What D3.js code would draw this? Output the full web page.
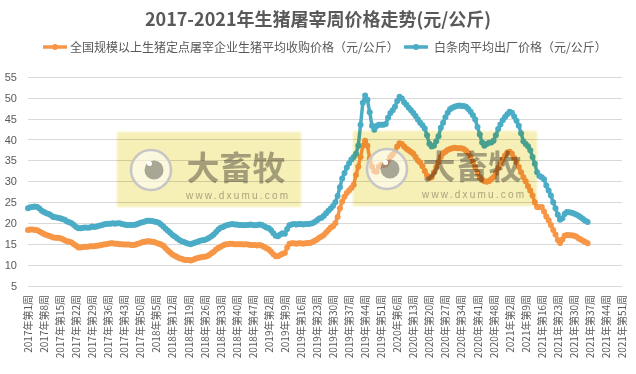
<!DOCTYPE html>
<html>
<head>
<meta charset="utf-8">
<script src="https://cdn.jsdelivr.net/npm/d3@7"></script>
<style>
body { margin: 0; background: #fff; }
svg { display: block; font-family: "Noto Sans CJK SC", "Noto Sans", sans-serif; }
</style>
</head>
<body>
<div id="chart"></div>
<script>
var width = 636,
	height = 374;

// 年份与每年周数，横轴每7周一个标签
var years = [2017, 2018, 2019, 2020, 2021];
var weeksInYear = [52, 52, 52, 53, 51];
var labelStep = 7;
var yTicks = [5, 10, 15, 20, 25, 30, 35, 40, 45, 50, 55];

var seriesNames = ["全国规模以上生猪定点屠宰企业生猪平均收购价格（元/公斤）", "白条肉平均出厂价格（元/公斤）"];
var seriesColors = ["#F79646", "#4BACC6"];

// 生猪平均收购价格
var purchase2017 = [18.4,18.5,18.5,18.4,18.3,18.0,17.7,17.4,17.2,17.0,16.8,16.6,16.5,16.5,16.4,16.2,15.9,15.7,15.6,15.4,15.0,14.6,14.2,14.2,14.3,14.4,14.4,14.5,14.5,14.5,14.6,14.7,14.8,14.9,15.0,15.1,15.2,15.2,15.1,15.1,15.0,15.0,14.9,14.9,14.9,14.8,14.8,14.9,15.1,15.3,15.5,15.6];
var purchase2018 = [15.7,15.7,15.6,15.5,15.3,15.1,14.9,14.6,14.0,13.5,13.0,12.5,12.2,11.9,11.6,11.5,11.3,11.2,11.2,11.1,11.3,11.5,11.7,11.8,11.9,12.0,12.1,12.4,12.8,13.2,13.7,14.1,14.4,14.7,14.9,15.0,15.1,15.1,15.0,15.0,15.0,15.0,14.9,15.0,14.9,14.8,14.8,14.8,14.7,14.8,14.6,14.3];
var purchase2019 = [14.0,13.7,13.2,12.6,12.1,12.1,12.4,12.7,12.9,14.2,15.1,15.2,15.2,15.1,15.2,15.2,15.1,15.2,15.3,15.3,15.5,15.8,16.1,16.5,16.8,17.2,17.8,18.4,19.0,19.3,20.0,21.5,23.6,25.2,26.3,27.2,27.8,28.4,29.2,31.5,33.5,35.8,38.5,39.7,38.5,35.5,33.5,32.5,32.3,33.5,33.9,33.9];
var purchase2020 = [34.0,34.8,35.8,36.4,37.2,38.3,39.1,38.9,38.3,37.8,37.4,37.0,36.6,35.8,35.0,34.5,33.6,32.5,31.4,30.8,31.0,32.2,33.4,34.6,35.8,36.7,37.1,37.5,37.7,37.9,38.0,37.9,37.9,37.9,37.7,37.3,36.8,35.9,34.6,33.4,32.1,31.0,30.4,30.0,29.9,30.1,30.5,31.0,32.0,33.2,34.2,35.2,36.2];
var purchase2021 = [36.9,37.1,36.6,35.6,34.6,33.4,32.2,31.0,30.0,28.8,27.8,26.6,25.0,23.9,23.8,23.9,22.8,21.6,20.7,19.6,18.4,17.3,16.0,15.3,16.1,17.0,17.2,17.1,17.1,17.0,16.8,16.4,16.1,15.8,15.5,15.2];

// 白条肉平均出厂价格
var pork2017 = [23.6,23.8,23.9,24.0,23.9,23.5,23.0,22.7,22.4,22.2,21.9,21.5,21.4,21.3,21.2,21.0,20.8,20.4,20.2,20.0,19.6,19.1,18.8,18.8,18.9,19.0,18.9,19.0,19.2,19.1,19.2,19.4,19.5,19.7,19.8,19.9,19.9,20.0,19.9,20.0,20.0,19.8,19.7,19.6,19.6,19.6,19.6,19.7,19.9,20.1,20.2,20.4];
var pork2018 = [20.6,20.6,20.5,20.4,20.3,20.1,19.7,19.2,18.7,18.2,17.7,17.2,16.8,16.4,16.0,15.7,15.5,15.3,15.1,15.0,15.2,15.4,15.6,15.8,15.9,16.0,16.2,16.5,16.9,17.3,17.9,18.5,18.9,19.1,19.4,19.6,19.7,19.8,19.7,19.7,19.6,19.6,19.5,19.6,19.6,19.7,19.6,19.5,19.6,19.7,19.6,19.3];
var pork2019 = [19.0,18.8,18.3,17.6,17.0,16.9,17.3,17.6,17.5,18.6,19.5,19.7,19.8,19.7,19.8,19.8,19.7,19.8,19.8,19.9,20.0,20.3,20.7,21.1,21.3,21.8,22.4,23.0,23.5,24.1,25.0,26.5,28.6,30.7,32.0,33.3,34.3,35.2,35.8,36.6,38.5,43.5,48.8,50.5,49.5,46.5,43.3,42.3,43.2,43.5,43.5,43.5];
var pork2020 = [43.7,45.2,46.3,47.0,47.8,49.2,50.2,49.8,48.9,48.3,47.6,47.0,46.3,45.6,44.8,44.0,43.4,42.6,41.0,39.0,38.3,38.5,39.6,40.8,42.8,44.0,45.3,46.4,47.2,47.6,47.8,48.0,48.1,48.0,48.0,47.8,47.3,46.6,45.8,44.8,43.0,41.2,39.3,38.5,38.9,39.2,39.3,39.7,41.0,42.5,43.6,44.6,45.4];
var pork2021 = [46.0,46.6,46.4,45.5,44.5,43.3,41.5,39.6,38.9,38.4,37.4,35.8,34.2,32.2,31.3,31.0,30.5,29.0,27.8,26.6,25.0,23.6,22.0,20.8,21.2,22.2,22.7,22.6,22.5,22.3,22.1,21.8,21.4,21.0,20.6,20.3];

var purchase = [].concat(purchase2017, purchase2018, purchase2019, purchase2020, purchase2021);
var pork = [].concat(pork2017, pork2018, pork2019, pork2020, pork2021);
var series = [purchase, pork];

// 横轴类别：2017年第1周 ... 2021年第51周
var categories = [];
years.forEach(function(y, k){
	for (var w = 1; w <= weeksInYear[k]; w++) categories.push(y + "年第" + w + "周");
});

var svg = d3.select("#chart").append("svg")
	.attr("width", width)
	.attr("height", height);

var x = d3.scalePoint()
	.domain(categories)
	.range([28, 622]);

var y = d3.scaleLinear()
	.domain([5, 55])
	.range([286, 76.7]);

// 标题
svg.append("text")
	.attr("x", 318)
	.attr("y", 26)
	.attr("text-anchor", "middle")
	.style("font-size", "18px")
	.style("font-weight", "bold")
	.style("fill", "#595959")
	.text("2017-2021年生猪屠宰周价格走势(元/公斤)");

// 网格线
svg.append("g").selectAll("line")
	.data(yTicks)
	.enter()
	.append("line")
	.attr("x1", 28)
	.attr("x2", 622)
	.attr("y1", function(d){ return Math.round(y(d)) + 0.5; })
	.attr("y2", function(d){ return Math.round(y(d)) + 0.5; })
	.style("stroke", "#D9D9D9")
	.style("stroke-width", 1);

// 纵轴
var yAxis = svg.append("g")
	.attr("transform", "translate(28,0)")
	.call(d3.axisLeft(y).tickValues(yTicks).tickSize(0).tickPadding(11));
yAxis.select(".domain").remove();
yAxis.selectAll("text")
	.style("font-family", "'Liberation Sans', sans-serif")
	.style("font-size", "11px")
	.style("fill", "#595959");

// 横轴
var xAxis = svg.append("g")
	.attr("transform", "translate(0,286)")
	.call(d3.axisBottom(x)
		.tickValues(categories.filter(function(d, i){ return i % labelStep === 0; }))
		.tickSize(0));
xAxis.select(".domain").remove();
xAxis.selectAll("text")
	.attr("transform", "rotate(-90)")
	.attr("x", -9)
	.attr("y", 0)
	.attr("dy", "0.35em")
	.attr("text-anchor", "end")
	.style("font-family", "'Noto Sans CJK SC', sans-serif")
	.style("font-size", "10px")
	.style("fill", "#595959");

// 折线 + 标记点
var line = d3.line()
	.x(function(d, i){ return x(categories[i]); })
	.y(function(d){ return y(d); });

series.forEach(function(vals, s){
	var g = svg.append("g");
	g.append("path")
		.datum(vals)
		.attr("d", line)
		.style("fill", "none")
		.style("stroke", seriesColors[s])
		.style("stroke-width", 3.5)
		.style("stroke-linejoin", "round");
	g.selectAll("circle")
		.data(vals)
		.enter()
		.append("circle")
		.attr("cx", function(d, i){ return x(categories[i]); })
		.attr("cy", function(d){ return y(d); })
		.attr("r", 3)
		.style("fill", seriesColors[s]);
});

// 图例
var legendPos = [[43, 70], [404, 434]];
seriesNames.forEach(function(name, s){
	var lg = svg.append("g");
	lg.append("line")
		.attr("x1", legendPos[s][0]).attr("x2", legendPos[s][0] + 24)
		.attr("y1", 47).attr("y2", 47)
		.style("stroke", seriesColors[s])
		.style("stroke-width", 3.5);
	lg.append("circle")
		.attr("cx", legendPos[s][0] + 12).attr("cy", 47).attr("r", 3)
		.style("fill", seriesColors[s]);
	lg.append("text")
		.attr("x", legendPos[s][1])
		.attr("y", 51.5)
		.style("font-size", "12px")
		.style("fill", "#595959")
		.text(name);
});

// 水印
var defs = svg.append("defs");
defs.append("filter")
	.attr("id", "soft")
	.append("feGaussianBlur")
	.attr("stdDeviation", 1.2);

function watermark(bx, by){
	var wm = svg.append("g").attr("transform", "translate(" + bx + "," + by + ")");
	wm.append("rect")
		.attr("width", 184).attr("height", 75)
		.attr("filter", "url(#soft)")
		.style("fill", "#F6EFB6")
		.style("mix-blend-mode", "multiply");
	wm.append("circle")
		.attr("cx", 34).attr("cy", 38).attr("r", 20)
		.style("fill", "#fff").style("fill-opacity", 0.55)
		.style("stroke", "#c6c6c6").style("stroke-width", 2.5);
	wm.append("circle")
		.attr("cx", 37).attr("cy", 38).attr("r", 9.5)
		.style("fill", "#ababab")
		.style("mix-blend-mode", "multiply");
	wm.append("circle")
		.attr("cx", 32.5).attr("cy", 31.5).attr("r", 2.5)
		.style("fill", "#fff");
	wm.append("text")
		.attr("x", 119).attr("y", 48)
		.attr("text-anchor", "middle")
		.style("font-size", "33px")
		.style("font-weight", "bold")
		.style("fill", "#a9a9a9")
		.style("mix-blend-mode", "multiply")
		.text("大畜牧");
	wm.append("text")
		.attr("x", 69).attr("y", 67)
		.attr("textLength", 102)
		.style("font-family", "'Liberation Sans', sans-serif")
		.style("font-size", "10px")
		.style("fill", "#b0b0b0")
		.style("mix-blend-mode", "multiply")
		.text("www.dxumu.com");
}
watermark(117, 132);
watermark(353, 131);
</script>
</body>
</html>
